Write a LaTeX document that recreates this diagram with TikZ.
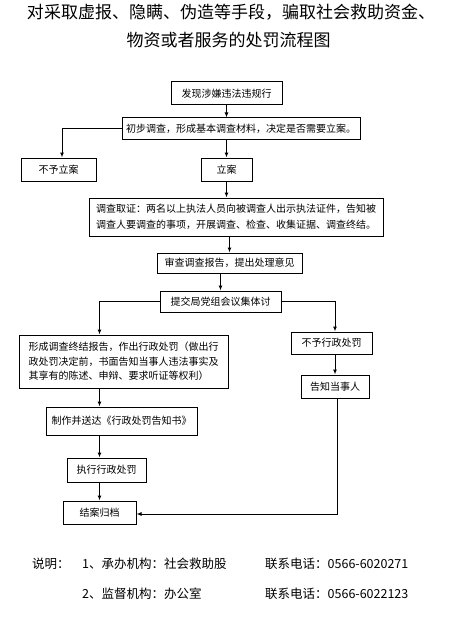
\documentclass[tikz,border=0pt]{standalone}
\usepackage{fontspec}
\setmainfont{Noto Sans CJK SC}
\usepackage{tikz}
\usetikzlibrary{positioning, arrows.meta}

\begin{document}
\begin{tikzpicture}[x=1pt, y=-1pt, >={Latex[length=5pt,width=4pt]}]
					\tikzstyle{box}=[draw=black, line width=1pt, inner sep=0pt, font=\fontsize{10}{16}\selectfont]
					\tikzstyle{link}=[line width=1pt]
					\tikzstyle{legend}=[anchor=west, inner sep=0pt, font=\fontsize{12.5}{15}\selectfont]
					\useasboundingbox (0,0) rectangle (455,623);
					\node(title1) at (231,12){\fontsize{17}{20}\selectfont 对采取虚报、隐瞒、伪造等手段，骗取社会救助资金、};
					\node(title2) at (228.5,40){\fontsize{17}{20}\selectfont 物资或者服务的处罚流程图};
					\node[box, minimum width=111pt, minimum height=23pt](find) at (226.5,93.5){发现涉嫌违法违规行};
					\node[box, minimum width=238pt, minimum height=21pt](prelim) at (241,128.5){初步调查，形成基本调查材料，决定是否需要立案。};
					\node[box, minimum width=75pt, minimum height=23pt](nocase) at (58.5,169.5){不予立案};
					\node[box, minimum width=51pt, minimum height=23pt](case) at (226.5,169.5){立案};
					\node[box, minimum width=294pt, minimum height=38pt, align=left](probe) at (236,217){调查取证：两名以上执法人员向被调查人出示执法证件，告知被\\调查人要调查的事项，开展调查、检查、收集证据、调查终结。};
					\node[box, minimum width=145pt, minimum height=20pt](review) at (229.5,263){审查调查报告，提出处理意见};
					\node[box, minimum width=121pt, minimum height=21pt](discuss) at (220.5,301.5){提交局党组会议集体讨};
					\node[box, minimum width=209pt, minimum height=53pt, align=left, font=\fontsize{10}{14.5}\selectfont](report) at (123.5,361.5){形成调查终结报告，作出行政处罚（做出行\\政处罚决定前，书面告知当事人违法事实及\\其享有的陈述、申辩、要求听证等权利）};
					\node[box, minimum width=81pt, minimum height=22pt](nopenalty) at (331.5,343){不予行政处罚};
					\node[box, minimum width=68pt, minimum height=23pt](inform) at (335,386.5){告知当事人};
					\node[box, minimum width=151pt, minimum height=28pt](notice) at (121.5,421){制作并送达《行政处罚告知书》};
					\node[box, minimum width=79pt, minimum height=24pt](execute) at (106.5,470){执行行政处罚};
					\node[box, minimum width=73pt, minimum height=23pt](close) at (99.5,512.5){结案归档};
					\node[legend](note) at (32,564){说明：};
					\node[legend](org1) at (82,564){1、承办机构：社会救助股};
					\node[legend](tel1) at (265,564){联系电话：0566-6020271};
					\node[legend](org2) at (82,594){2、监督机构：办公室};
					\node[legend](tel2) at (265,594){联系电话：0566-6022123};
					\path[link, ->]
						(find.south) edge node {}(find.south |- prelim.north)
						(case.north |- prelim.south) edge node {}(case.north)
						(case.south) edge node {}(case.south |- probe.north)
						(review.north |- probe.south) edge node {}(review.north)
						(discuss.north |- review.south) edge node {}(discuss.north)
						(inform.north |- nopenalty.south) edge node {}(inform.north)
						(close.north |- report.south) edge node {}(close.north |- notice.north)
						(close.north |- notice.south) edge node {}(close.north |- execute.north)
						(close.north |- execute.south) edge node {}(close.north);
					\draw[link, ->] (prelim.west) -| ([xshift=3.5pt]nocase.north);
					\draw[link, ->] (discuss.west) -| (close.north |- report.north);
					\draw[link, ->] (discuss.east) -| (inform.north |- nopenalty.north);
					\draw[link, ->] ([xshift=2pt]inform.south) |- ([yshift=-1.5pt]close.east);
				\end{tikzpicture}
\end{document}
